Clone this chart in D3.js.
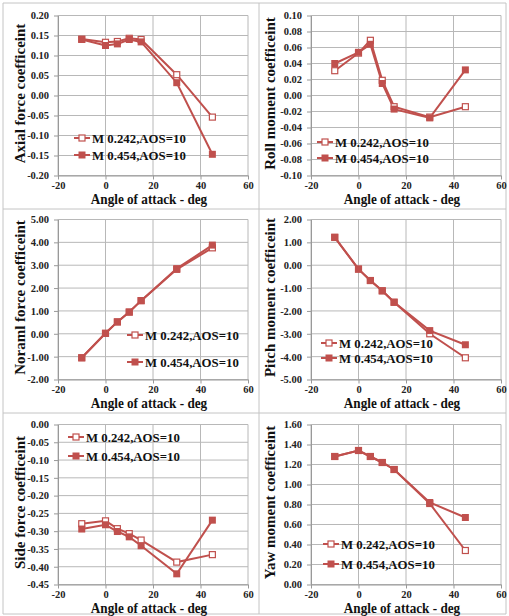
<!DOCTYPE html>
<meta charset="utf-8">
<style>
body { margin: 0; background: #fff; }
svg { display: block; font-family: "Liberation Serif", "Times New Roman", serif; font-weight: bold; }
.grid line { stroke: #b8b8b8; stroke-width: 1px; }
.axis path, .axis line { stroke: #999; }
.axis text { fill: #222; font-size: 10.5px; font-family: "Liberation Serif", serif; font-weight: bold; }
.line { fill: none; stroke: #c0504d; stroke-width: 2px; }
</style>
<body>
<script src="https://d3js.org/d3.v7.min.js"></script>
<script>

// angles of attack (deg)
var angles = [-10, 0, 5, 10, 15, 30, 45];
var seriesNames = ["M 0.242,AOS=10", "M 0.454,AOS=10"];
var xTicks = [-20, 0, 20, 40, 60];

// values
var axial242 = [0.141, 0.133, 0.135, 0.143, 0.140, 0.052, -0.054];
var axial454 = [0.140, 0.125, 0.129, 0.140, 0.134, 0.032, -0.147];
var roll242 = [0.031, 0.053, 0.069, 0.019, -0.014, -0.027, -0.014];
var roll454 = [0.040, 0.054, 0.064, 0.015, -0.017, -0.028, 0.032];
var normal242 = [-1.05, 0.02, 0.52, 0.95, 1.45, 2.82, 3.76];
var normal454 = [-1.05, 0.02, 0.52, 0.95, 1.45, 2.85, 3.88];
var pitch242 = [1.22, -0.17, -0.67, -1.12, -1.62, -3.00, -4.05];
var pitch454 = [1.22, -0.17, -0.67, -1.12, -1.62, -2.86, -3.48];
var side242 = [-0.279, -0.271, -0.293, -0.307, -0.325, -0.387, -0.366];
var side454 = [-0.294, -0.282, -0.301, -0.316, -0.341, -0.420, -0.269];
var yaw242 = [1.28, 1.34, 1.28, 1.22, 1.15, 0.81, 0.34];
var yaw454 = [1.28, 1.34, 1.28, 1.22, 1.15, 0.82, 0.67];

// tick labels for each value axis
var axialTicks = [-0.20, -0.15, -0.10, -0.05, 0, 0.05, 0.10, 0.15, 0.20];
var rollTicks = [-0.10, -0.08, -0.06, -0.04, -0.02, 0, 0.02, 0.04, 0.06, 0.08, 0.10];
var normalTicks = [-2, -1, 0, 1, 2, 3, 4, 5];
var pitchTicks = [-5, -4, -3, -2, -1, 0, 1, 2];
var sideTicks = [-0.45, -0.40, -0.35, -0.30, -0.25, -0.20, -0.15, -0.10, -0.05, 0];
var yawTicks = [0, 0.2, 0.4, 0.6, 0.8, 1.0, 1.2, 1.4, 1.6];

// leg = [line start x, row 1 y, row 2 y], relative to the cell
var panels = [
  {title: "Axial force coefficeint", s1: axial242, s2: axial454, ticks: axialTicks, col: 0, row: 0, leg: [74, 138, 155]},
  {title: "Roll moment coefficeint", s1: roll242, s2: roll454, ticks: rollTicks, col: 1, row: 0, leg: [62, 142, 158]},
  {title: "Noraml force coefficeint", s1: normal242, s2: normal454, ticks: normalTicks, col: 0, row: 1, leg: [127, 130, 157]},
  {title: "Pitch moment coefficeint", s1: pitch242, s2: pitch454, ticks: pitchTicks, col: 1, row: 1, leg: [66, 138, 153]},
  {title: "Side force coefficeint", s1: side242, s2: side454, ticks: sideTicks, col: 0, row: 2, leg: [68, 27, 46]},
  {title: "Yaw moment coefficeint", s1: yaw242, s2: yaw454, ticks: yawTicks, col: 1, row: 2, leg: [68, 134, 154]}
];

var W = 509, H = 616;
var colLeft = [58, 311], plotW = 190;
var rowTop = [15.5, 219.5, 424.5], plotH = 160;
var cellTop = [0, 205, 410];
var red = "#c0504d";

var svg = d3.select("body").append("svg")
    .attr("width", W)
    .attr("height", H);

// table cell borders
var bx = [3, 259, 506], by = [3, 209, 413, 614];
bx.forEach(function(x) {
  svg.append("line").attr("x1", x).attr("x2", x).attr("y1", 3).attr("y2", 614)
    .attr("stroke", "#c4c4c4");
});
by.forEach(function(y) {
  svg.append("line").attr("x1", 3).attr("x2", 506).attr("y1", y).attr("y2", y)
    .attr("stroke", "#c4c4c4");
});

function fmt(d) { return d3.format(".2f")(d).replace("\u2212", "-"); }

// the picture is squeezed sideways, so text gets a horizontal scale
function squeezedText(g, x, y, str, size, sx, anchor) {
  return g.append("text")
      .attr("transform", "translate(" + x + "," + y + ") scale(" + sx + ",1)")
      .attr("text-anchor", anchor)
      .style("font-size", size + "px")
      .attr("fill", "#111")
      .text(str);
}

function marker(g, px, py, filled) {
  if (filled) {
    g.append("rect").attr("x", px - 3.5).attr("y", py - 3.5)
      .attr("width", 7).attr("height", 7).attr("fill", red);
  } else {
    g.append("rect").attr("x", px - 3).attr("y", py - 3)
      .attr("width", 6).attr("height", 6)
      .attr("fill", "#fff").attr("stroke", red).attr("stroke-width", 1.2);
  }
}

panels.forEach(function(p) {
  var left = colLeft[p.col], top = rowTop[p.row];
  var g = svg.append("g").attr("transform", "translate(" + left + "," + top + ")");

  var x = d3.scaleLinear().domain([-20, 60]).range([0, plotW]);
  var y = d3.scaleLinear().domain(d3.extent(p.ticks)).range([plotH, 0]);

  // gridlines
  g.append("g").attr("class", "grid")
    .selectAll("line").data(p.ticks).enter().append("line")
      .attr("x1", 0).attr("x2", plotW)
      .attr("y1", function(d) { return y(d); })
      .attr("y2", function(d) { return y(d); });
  g.append("g").attr("class", "grid")
    .selectAll("line").data(xTicks).enter().append("line")
      .attr("x1", function(d) { return x(d); })
      .attr("x2", function(d) { return x(d); })
      .attr("y1", 0).attr("y2", plotH);

  // axes
  g.append("g").attr("class", "axis")
    .attr("transform", "translate(0," + plotH + ")")
    .call(d3.axisBottom(x).tickValues(xTicks).tickSize(4).tickSizeOuter(0).tickPadding(2)
      .tickFormat(function(d) { return String(d); }));
  g.append("g").attr("class", "axis")
    .call(d3.axisLeft(y).tickValues(p.ticks).tickSize(4).tickSizeOuter(0).tickPadding(5)
      .tickFormat(fmt));

  // series lines and markers
  var line = d3.line()
      .x(function(d, i) { return x(angles[i]); })
      .y(function(d) { return y(d); });

  [p.s1, p.s2].forEach(function(s) {
    g.append("path").datum(s).attr("class", "line").attr("d", line);
  });
  [p.s1, p.s2].forEach(function(s, si) {
    s.forEach(function(v, i) { marker(g, x(angles[i]), y(v), si === 1); });
  });

  // axis titles
  var cell = svg.append("g").attr("transform", "translate(" + (p.col * 255) + "," + cellTop[p.row] + ")");
  squeezedText(cell, left - p.col * 255 + plotW / 2 - 4, top - cellTop[p.row] + plotH + 28,
      "Angle of attack - deg", 15, 0.88, "middle");
  svg.append("text")
      .attr("transform", "translate(" + (p.col === 0 ? 25 : 275) + "," + (top + plotH / 2 - 2) + ") rotate(-90)")
      .attr("text-anchor", "middle")
      .style("font-size", "15px")
      .attr("fill", "#111")
      .text(p.title);

  // legend
  [p.leg[1], p.leg[2]].forEach(function(ly, li) {
    var lx = p.leg[0];
    cell.append("line").attr("x1", lx).attr("x2", lx + 16)
      .attr("y1", ly).attr("y2", ly)
      .attr("stroke", red).attr("stroke-width", 2);
    marker(cell, lx + 8, ly, li === 1);
    squeezedText(cell, lx + 18, ly + 4.5, seriesNames[li], 13.5, 0.95, "start");
  });
});

</script>
</body>
